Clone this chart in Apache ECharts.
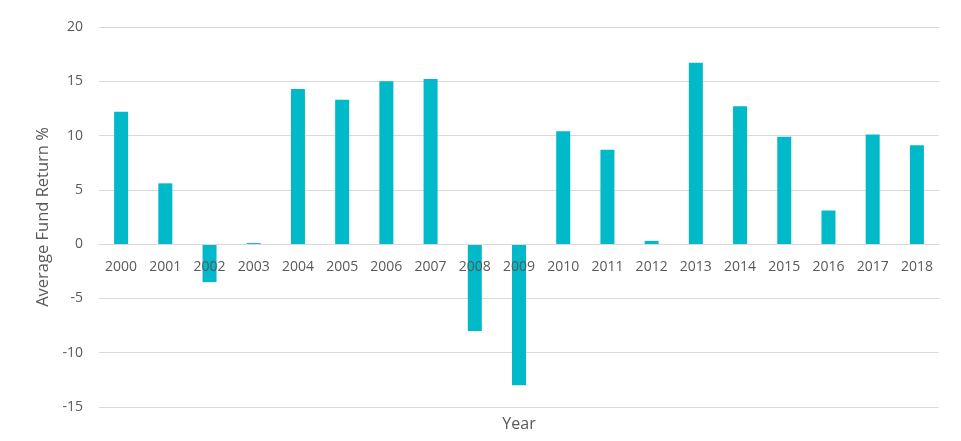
<!DOCTYPE html>
<html><head><meta charset="utf-8">
<script src="https://cdn.jsdelivr.net/npm/echarts@6/dist/echarts.min.js"></script>
<style>html,body{margin:0;padding:0;background:#fff}#c{width:961px;height:441px}</style>
</head><body><div id="c"></div>
<script>
const years = ['2000','2001','2002','2003','2004','2005','2006','2007','2008','2009','2010','2011','2012','2013','2014','2015','2016','2017','2018'];
const returns = [12.2, 5.6, -3.5, 0.1, 14.3, 13.3, 15.0, 15.2, -8.0, -13.0, 10.4, 8.7, 0.3, 16.7, 12.7, 9.9, 3.1, 10.1, 9.1];
const yTicks = { min: -15, max: 20, interval: 5 };

const chart = echarts.init(document.getElementById('c'), null, {renderer: 'canvas'});
const font = 'Open Sans';
const gridBottom = 34;
chart.setOption({
  animation: false,
  grid: { left: 99, right: 22, top: 27, bottom: gridBottom, containLabel: false, outerBoundsMode: 'none' },
  xAxis: {
    type: 'category', data: years, z: 5,
    axisLine: { show: true, onZero: true, lineStyle: { color: '#d9d9d9', width: 1 } },
    axisTick: { show: false },
    axisLabel: { color: '#595959', fontFamily: font, fontSize: 14, margin: 16 },
    name: 'Year', nameLocation: 'middle', nameGap: 9,
    nameTextStyle: { color: '#595959', fontFamily: font, fontSize: 16 }
  },
  yAxis: {
    type: 'value', min: yTicks.min, max: yTicks.max, interval: yTicks.interval,
    axisLine: { show: false }, axisTick: { show: false },
    splitLine: { lineStyle: { color: '#d9d9d9', width: 1 } },
    axisLabel: { color: '#595959', fontFamily: font, fontSize: 14, margin: 16 },
    name: 'Average Fund Return %', nameLocation: 'middle', nameGap: 37,
    nameTextStyle: { color: '#595959', fontFamily: font, fontSize: 16.5 }
  },
  series: [{
    type: 'bar', data: returns, barWidth: 14,
    itemStyle: { color: '#00b9c9' }
  }]
});
// Move the category axis (line + labels) up to the zero line of the value scale
const zeroY = chart.convertToPixel({ yAxisIndex: 0 }, 0);
const bottomY = chart.getHeight() - gridBottom;
const off = zeroY - bottomY;
chart.setOption({ xAxis: { offset: off, nameGap: 9 - off } });
</script></body></html>
